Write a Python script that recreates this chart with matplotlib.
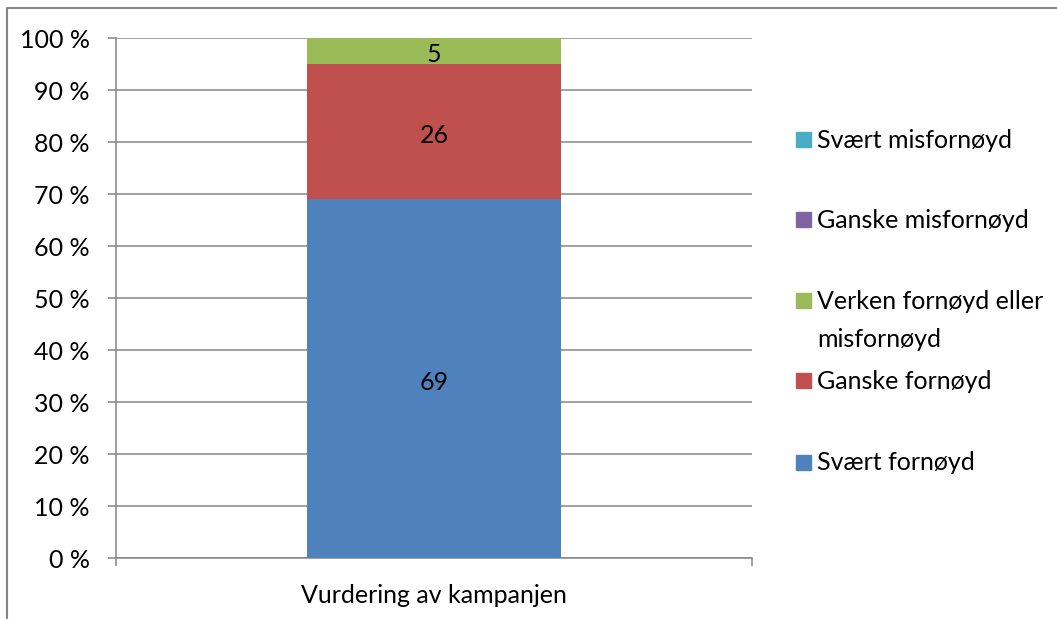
import matplotlib
matplotlib.use('Agg')
import matplotlib.pyplot as plt
from matplotlib.lines import Line2D
from matplotlib.patches import Rectangle
from matplotlib.ticker import FuncFormatter, MultipleLocator

plt.rcParams['font.family'] = ['Lato', 'DejaVu Sans']

# Data
category = "Vurdering av kampanjen"
series = ["Svært fornøyd", "Ganske fornøyd", "Verken fornøyd eller\nmisfornøyd",
          "Ganske misfornøyd", "Svært misfornøyd"]
values = [69, 26, 5, 0, 0]
colors = ["#4F81BD", "#C0504D", "#9BBB59", "#8064A2", "#4BACC6"]

W, H = 1057, 619
fig = plt.figure(figsize=(W / 100, H / 100), dpi=100)
ax = fig.add_axes([116 / W, (H - 558) / H, (752 - 116) / W, (558 - 38) / H])

grid_col = "#868686"
fs = 18

bottom = 0
for name, val, col in zip(series, values, colors):
    ax.bar(0, val, width=0.4, bottom=bottom, color=col, zorder=3)
    if val > 0:
        # data label, nudged down a little like Excel
        ax.annotate(str(val), (0, bottom + val / 2), xytext=(0, -2.5),
                    textcoords='offset points', ha='center', va='center',
                    fontsize=fs, color='black', zorder=4)
    bottom += val

ax.set_xlim(-0.5, 0.5)
ax.set_ylim(0, 100)
ax.yaxis.set_major_locator(MultipleLocator(10))
ax.yaxis.set_major_formatter(FuncFormatter(lambda v, p: f"{int(round(v))} %"))
ax.grid(axis='y', color=grid_col, linewidth=1.1, zorder=0)

for s in ['top', 'right']:
    ax.spines[s].set_visible(False)
for s in ['left', 'bottom']:
    ax.spines[s].set_color(grid_col)
    ax.spines[s].set_linewidth(1.1)

ax.tick_params(axis='y', length=6, color=grid_col, width=1.1, pad=13, labelsize=fs)
ax.set_xticks([0])
ax.set_xticklabels([category])
ax.set_xticks([-0.5, 0.5], minor=True)
ax.tick_params(axis='x', which='major', length=0, pad=19, labelsize=fs)
ax.tick_params(axis='x', which='minor', length=6, color=grid_col, width=1.1)

# legend, Excel style (top entries first)
leg_y = [462, 380.7, 300.7, 219.5, 139.5]
for name, col, yc in zip(series, colors, leg_y):
    fig.patches.append(Rectangle((796 / W, 1 - (yc + 7.5) / H), 15 / W, 15 / H,
                                 transform=fig.transFigure, color=col))
    fig.text(817 / W, 1 - (yc - 11) / H, name, ha='left', va='top',
             fontsize=fs, linespacing=1.8)

# chart border (left and top edge visible)
fig.add_artist(Line2D([7 / W, 7 / W, 1.0], [0.0, 1 - 8 / H, 1 - 8 / H],
                      transform=fig.transFigure, color=grid_col, linewidth=1.5))

fig.savefig("out.png", dpi=100)
